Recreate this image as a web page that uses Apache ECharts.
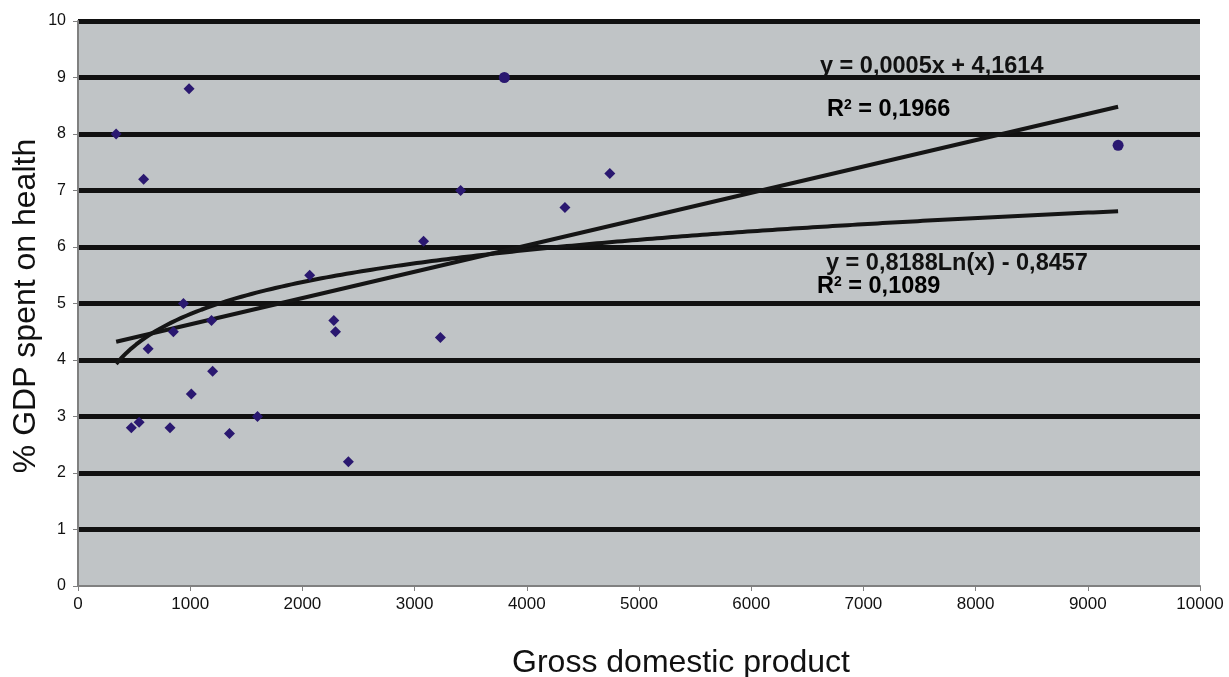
<!DOCTYPE html>
<html>
<head>
<meta charset="utf-8">
<script src="https://cdn.jsdelivr.net/npm/echarts@6/dist/echarts.min.js"></script>
<style>
  html, body { margin: 0; padding: 0; background: #fff; }
  #chart { width: 1229px; height: 677px; }
</style>
</head>
<body>
<div id="chart"></div>
<script>
// countries: GDP vs % GDP spent on health
const gdp    = [340, 990, 585, 2065, 940, 1190, 850, 2280, 2295, 625, 1200, 1010, 1600, 545, 475, 820, 1350, 2410, 3230, 3080, 3410, 4340, 4740];
const health = [8.0, 8.8, 7.2, 5.5, 5.0, 4.7, 4.5, 4.7, 4.5, 4.2, 3.8, 3.4, 3.0, 2.9, 2.8, 2.8, 2.7, 2.2, 4.4, 6.1, 7.0, 6.7, 7.3];
// the two round markers
const gdpDot    = [3800, 9270];
const healthDot = [9.0, 7.8];

const xTicks = ['0', '1000', '2000', '3000', '4000', '5000', '6000', '7000', '8000', '9000', '10000'];

const allX = gdp.concat(gdpDot);
const allY = health.concat(healthDot);

// least squares, like the spreadsheet trendlines
function fit(xs, ys) {
  const n = xs.length;
  let sx = 0, sy = 0, sxx = 0, sxy = 0;
  for (let i = 0; i < n; i++) { sx += xs[i]; sy += ys[i]; sxx += xs[i] * xs[i]; sxy += xs[i] * ys[i]; }
  const b = (n * sxy - sx * sy) / (n * sxx - sx * sx);
  return { a: (sy - b * sx) / n, b: b };
}
const lin = fit(allX, allY);
const lg = fit(allX.map(Math.log), allY);
const xMin = Math.min.apply(null, allX), xMax = Math.max.apply(null, allX);

const linLine = [[xMin, lin.a + lin.b * xMin], [xMax, lin.a + lin.b * xMax]];
const logLine = [];
for (let i = 0; i <= 200; i++) {
  const x = xMin + (xMax - xMin) * i / 200;
  logLine.push([x, lg.a + lg.b * Math.log(x)]);
}

const F = 'Liberation Sans, Arial, sans-serif';
const eqStyle = { fontFamily: F, fontWeight: 'bold', fontSize: 23.5, fill: '#111' };
const rich = {
  r: { fontFamily: F, fontWeight: 'bold', fontSize: 23.5, color: '#111' },
  s: { fontFamily: F, fontWeight: 'bold', fontSize: 14, color: '#111', verticalAlign: 'top', padding: [0, 0, 9, 0] }
};

const myChart = echarts.init(document.getElementById('chart'));
myChart.setOption({
  animation: false,
  backgroundColor: '#fff',
  grid: { left: 78, right: 29, top: 21, bottom: 91, show: true, backgroundColor: '#c0c4c6', borderWidth: 0, outerBoundsMode: 'none', containLabel: false },
  xAxis: {
    type: 'value', min: 0, max: 10000, interval: 1000,
    axisLine: { lineStyle: { color: '#808080', width: 2 } },
    axisTick: { show: true, length: 5, lineStyle: { color: '#808080' } },
    axisLabel: { fontFamily: F, fontSize: 17, color: '#111', margin: 10, formatter: (v) => xTicks[v / 1000] },
    splitLine: { show: false }
  },
  yAxis: {
    type: 'value', min: 0, max: 10, interval: 1,
    axisLine: { show: true, lineStyle: { color: '#808080', width: 2 } },
    axisTick: { show: true, length: 5, lineStyle: { color: '#808080' } },
    axisLabel: { fontFamily: F, fontSize: 16, color: '#111', margin: 12 },
    splitLine: { show: true, lineStyle: { color: ['transparent', '#111', '#111', '#111', '#111', '#111', '#111', '#111', '#111', '#111', '#111'], width: 5 } }
  },
  series: [
    { type: 'line', data: linLine, symbol: 'none', lineStyle: { color: '#151515', width: 4 }, z: 3 },
    { type: 'line', data: logLine, symbol: 'none', lineStyle: { color: '#151515', width: 4 }, z: 3 },
    { type: 'scatter', data: gdp.map((x, i) => [x, health[i]]), symbol: 'diamond', symbolSize: 11, itemStyle: { color: '#2a1870', opacity: 1 }, z: 5 },
    { type: 'scatter', data: gdpDot.map((x, i) => [x, healthDot[i]]), symbol: 'circle', symbolSize: 11, itemStyle: { color: '#2a1870', opacity: 1 }, z: 5 }
  ],
  graphic: [
    { type: 'text', x: 681, y: 663, style: { text: 'Gross domestic product', fontFamily: F, fontSize: 32, fill: '#111', align: 'center', verticalAlign: 'middle' } },
    { type: 'text', x: 26, y: 306, rotation: Math.PI / 2, style: { text: '% GDP spent on health', fontFamily: F, fontSize: 32, fill: '#111', align: 'center', verticalAlign: 'middle' } },
    { type: 'text', left: 820, top: 55, style: Object.assign({ text: 'y = 0,0005x + 4,1614' }, eqStyle), z: 10 },
    { type: 'text', left: 827, top: 98, style: { text: '{r|R}{s|2}{r| = 0,1966}', rich: rich }, z: 10 },
    { type: 'text', left: 826, top: 252, style: Object.assign({ text: 'y = 0,8188Ln(x) - 0,8457' }, eqStyle), z: 10 },
    { type: 'text', left: 817, top: 275, style: { text: '{r|R}{s|2}{r| = 0,1089}', rich: rich }, z: 10 }
  ]
});
window.onresize = function() {
  myChart.resize()
}
</script>
</body>
</html>
